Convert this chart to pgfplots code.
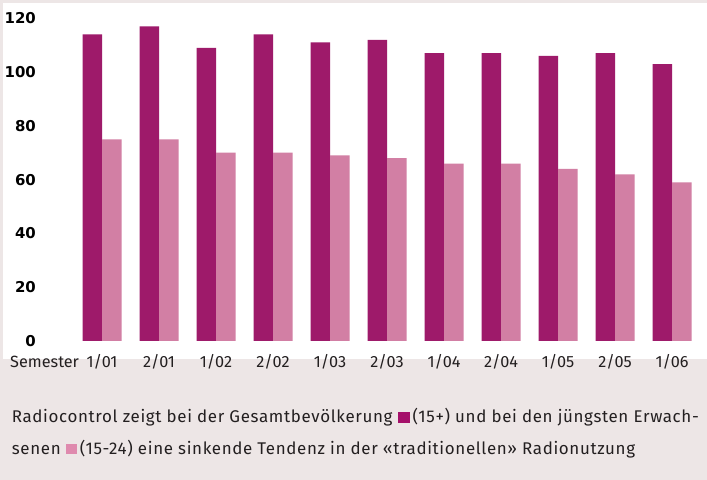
\documentclass[border=0pt]{standalone}
\usepackage{pgfplots}
\pgfplotsset{compat=1.18}
\usepackage{fontspec}
\setmainfont{Fira Sans}
\newfontfamily\capfont[LetterSpace=3.8]{Fira Sans}
\newfontfamily\tickfont{DejaVu Sans}
\definecolor{bg}{HTML}{EDE6E6}
\definecolor{darkbar}{HTML}{9E1A6A}
\definecolor{lightbar}{HTML}{D27FA4}
\definecolor{darksq}{HTML}{A5106A}
\definecolor{lightsq}{HTML}{DF8AAE}
\definecolor{txt}{HTML}{231F20}
\begin{document}
\begin{tikzpicture}[x=1bp,y=1bp]
\fill[bg] (0,0) rectangle (707,480);
\useasboundingbox (0,0) rectangle (707,480);
\fill[white] (3,121) rectangle (707,477);
\begin{axis}[
  at={(45bp,139bp)}, anchor=south west,
  scale only axis, width=655.5bp, height=322.7bp,
  xmin=-1, xmax=10.5, ymin=0, ymax=120,
  ybar=0pt, bar width=19.5bp,
  axis line style={draw=none},
  major tick length=0pt,
  xtick={0,1,2,3,4,5,6,7,8,9,10},
  xticklabels={1/01,2/01,1/02,2/02,1/03,2/03,1/04,2/04,1/05,2/05,1/06},
  ytick={0,20,40,60,80,100,120},
  yticklabels={0,20,40,60,80,100,120},
  xticklabel style={anchor=base, yshift=-27bp, inner sep=0pt, font=\fontsize{16.3}{16.3}\selectfont, text=txt},
  yticklabel style={anchor=east, inner sep=0pt, xshift=-9bp, font=\tickfont\bfseries\fontsize{15}{15}\selectfont, text=black},
  clip=false]
\addplot[fill=darkbar, draw=none] coordinates {(0,114) (1,117) (2,109) (3,114) (4,111) (5,112) (6,107) (7,107) (8,106) (9,107) (10,103)};
\addplot[fill=lightbar, draw=none] coordinates {(0,75) (1,75) (2,70) (3,70) (4,69) (5,68) (6,66) (7,66) (8,64) (9,62) (10,59)};
\end{axis}
\node[anchor=base west, inner sep=0pt, font=\fontsize{16.3}{16.3}\selectfont, text=txt] at (10,112) {Semester};
\node[anchor=base west, inner sep=0pt, font=\capfont\fontsize{17}{17}\selectfont, text=txt] at (11.7,57.3) {Radiocontrol zeigt bei der Gesamtbev\"olkerung \textcolor{darksq}{\rule{12bp}{11bp}}\hspace{3bp}(15+) und bei den j\"ungsten Erwach-};
\node[anchor=base west, inner sep=0pt, font=\capfont\fontsize{17}{17}\selectfont, text=txt] at (11.7,25.7) {senen \textcolor{lightsq}{\rule{11bp}{10bp}}\hspace{3bp}(15-24) eine sinkende Tendenz in der «traditionellen» Radionutzung};
\end{tikzpicture}
\end{document}
